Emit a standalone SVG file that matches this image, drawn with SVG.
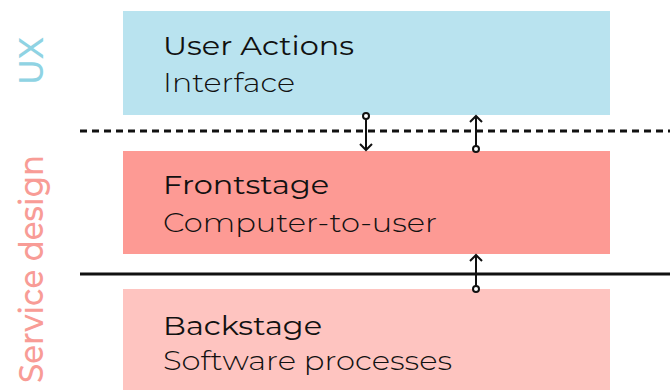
<svg xmlns="http://www.w3.org/2000/svg" width="670" height="390" viewBox="0 0 670 390">
  <defs>
    <style>
      .title { font-family: "Montserrat", "Lato", "Open Sans", "Liberation Sans", sans-serif; font-size: 26px; fill: #111; }
      .sub { font-family: "Montserrat", "Lato", "Open Sans", "Liberation Sans", sans-serif; font-size: 26px; font-weight: 300; fill: #111; }
      .side { font-family: "Montserrat", "Lato", "Open Sans", "Liberation Sans", sans-serif; font-size: 33px; font-weight: 500; }
      .link { stroke: #111; stroke-width: 2; fill: none; }
      .dot { stroke: #111; stroke-width: 2; fill: #fff; }
    </style>
    <marker id="head" viewBox="0 0 10 14" refX="8" refY="7" markerWidth="10" markerHeight="14" markerUnits="userSpaceOnUse" orient="auto">
      <path d="M2,1 L8,7 L2,13" fill="none" stroke="#111" stroke-width="2"/>
    </marker>
  </defs>
  <rect width="670" height="390" fill="#fff"/>

  <!-- side labels -->
  <text class="side" fill="#8fd3e3" text-anchor="middle" transform="translate(43,61) rotate(-90)">UX</text>
  <text class="side" fill="#f89c96" text-anchor="middle" textLength="228" lengthAdjust="spacingAndGlyphs" transform="translate(43,269) rotate(-90)">Service design</text>

  <!-- layer separators -->
  <line x1="80" y1="131" x2="670" y2="131" stroke="#111" stroke-width="3" stroke-dasharray="7 5"/>
  <line x1="80" y1="274" x2="670" y2="274" stroke="#111" stroke-width="3"/>

  <g id="ux">
    <rect x="123" y="11" width="487" height="104" fill="#b9e3ef"/>
    <text class="title" x="163" y="55" textLength="191" lengthAdjust="spacingAndGlyphs">User Actions</text>
    <text class="sub" x="163" y="92" textLength="132" lengthAdjust="spacingAndGlyphs">Interface</text>
  </g>

  <g id="frontstage">
    <rect x="123" y="151" width="487" height="103" fill="#fd9a94"/>
    <text class="title" x="163" y="194" textLength="166" lengthAdjust="spacingAndGlyphs">Frontstage</text>
    <text class="sub" x="163" y="232" textLength="274" lengthAdjust="spacingAndGlyphs">Computer-to-user</text>
  </g>

  <g id="backstage">
    <rect x="123" y="289" width="487" height="101" fill="#fec4c0"/>
    <text class="title" x="163" y="335" textLength="159" lengthAdjust="spacingAndGlyphs">Backstage</text>
    <text class="sub" x="163" y="370" textLength="289" lengthAdjust="spacingAndGlyphs">Software processes</text>
  </g>

  <g id="connectors">
    <line class="link" x1="366" y1="116" x2="366" y2="150" marker-end="url(#head)"/>
    <circle class="dot" cx="366" cy="116" r="3"/>
    <line class="link" x1="476" y1="149" x2="476" y2="116" marker-end="url(#head)"/>
    <circle class="dot" cx="476" cy="149" r="3"/>
    <line class="link" x1="476" y1="289" x2="476" y2="255" marker-end="url(#head)"/>
    <circle class="dot" cx="476" cy="289" r="3"/>
  </g>
</svg>
